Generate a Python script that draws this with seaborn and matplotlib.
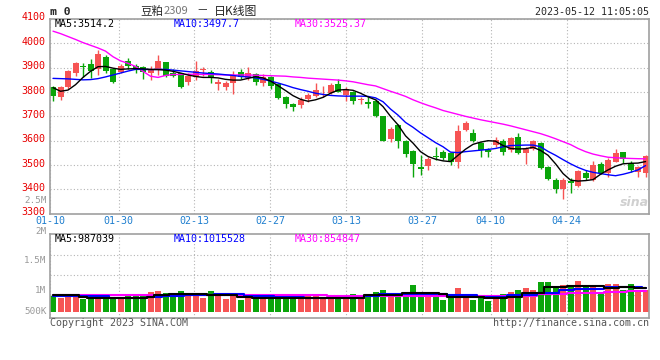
import matplotlib
matplotlib.use("Agg")
import matplotlib.pyplot as plt
import matplotlib.transforms as mtransforms
import numpy as np
import pandas as pd
import seaborn as sns

# ---------------- data ----------------
date_labels = ["01-10", "01-30", "02-13", "02-27", "03-13", "03-27", "04-10", "04-24"]
date_tick_pos = [-0.4, 8.76, 18.83, 28.97, 39.11, 49.24, 58.36, 68.49]
price_ticks = [3300, 3400, 3500, 3600, 3700, 3800, 3900, 4000, 4100]

opens = [3822, 3781, 3820, 3877, 3908, 3914, 3893, 3943, 3893, 3881,
         3927, 3905, 3901, 3877, 3893, 3922, 3877, 3877, 3842, 3863,
         3889, 3881, 3832, 3822, 3838, 3883, 3856, 3874, 3838, 3860,
         3833, 3778, 3751, 3747, 3770, 3785, 3798, 3795, 3833, 3788,
         3799, 3769, 3760, 3764, 3701, 3607, 3664, 3600, 3558, 3490,
         3496, 3538, 3555, 3548, 3514, 3644, 3633, 3592, 3562, 3582,
         3599, 3562, 3616, 3551, 3565, 3592, 3493, 3438, 3400, 3436,
         3415, 3468, 3438, 3504, 3466, 3514, 3552, 3507, 3473, 3466]
closes = [3784, 3822, 3885, 3920, 3902, 3886, 3956, 3886, 3842, 3907,
          3907, 3895, 3883, 3893, 3927, 3867, 3867, 3822, 3867, 3886,
          3891, 3861, 3842, 3836, 3870, 3860, 3877, 3842, 3860, 3826,
          3777, 3750, 3737, 3767, 3788, 3808, 3801, 3829, 3801, 3811,
          3764, 3772, 3750, 3701, 3600, 3647, 3597, 3544, 3504, 3485,
          3525, 3535, 3528, 3514, 3640, 3674, 3600, 3562, 3555, 3603,
          3555, 3612, 3551, 3566, 3599, 3487, 3443, 3400, 3438, 3428,
          3475, 3445, 3500, 3468, 3521, 3548, 3524, 3480, 3493, 3537]
highs = [3825, 3826, 3890, 3925, 3920, 3934, 3973, 3952, 3897, 3915,
         3941, 3915, 3905, 3905, 3952, 3925, 3895, 3880, 3880, 3927,
         3903, 3890, 3855, 3845, 3886, 3896, 3901, 3880, 3874, 3866,
         3838, 3782, 3756, 3778, 3795, 3838, 3825, 3836, 3852, 3822,
         3805, 3781, 3778, 3770, 3703, 3657, 3669, 3602, 3560, 3541,
         3534, 3573, 3562, 3552, 3664, 3682, 3647, 3596, 3569, 3616,
         3606, 3616, 3630, 3575, 3603, 3594, 3495, 3445, 3445, 3446,
         3478, 3480, 3517, 3514, 3528, 3565, 3555, 3518, 3496, 3541]
lows = [3764, 3767, 3812, 3866, 3860, 3856, 3870, 3877, 3838, 3877,
        3893, 3880, 3852, 3848, 3870, 3862, 3860, 3818, 3830, 3850,
        3865, 3835, 3808, 3808, 3791, 3852, 3849, 3829, 3826, 3814,
        3771, 3733, 3723, 3736, 3760, 3778, 3778, 3791, 3799, 3764,
        3750, 3750, 3736, 3699, 3599, 3596, 3571, 3532, 3450, 3459,
        3480, 3521, 3521, 3500, 3487, 3641, 3596, 3532, 3532, 3575,
        3541, 3555, 3545, 3504, 3562, 3482, 3438, 3384, 3360, 3387,
        3408, 3438, 3436, 3463, 3452, 3514, 3510, 3473, 3450, 3450]

ma5 = [3818, 3803, 3808, 3830, 3860, 3885, 3904, 3905, 3898, 3893,
       3895, 3896, 3895, 3893, 3892, 3890, 3885, 3878, 3870, 3864,
       3860, 3860, 3858, 3852, 3849, 3849, 3856, 3863, 3858, 3845,
       3826, 3806, 3785, 3770, 3762, 3768, 3778, 3795, 3808, 3810,
       3807, 3795, 3780, 3768, 3740, 3700, 3665, 3620, 3590, 3555,
       3535, 3524, 3517, 3514, 3540, 3565, 3585, 3594, 3600, 3598,
       3580, 3568, 3566, 3567, 3573, 3560, 3540, 3505, 3465, 3438,
       3434, 3436, 3440, 3462, 3480, 3495, 3505, 3507, 3508, 3514.2]
ma10 = [3856, 3855, 3854, 3852, 3850, 3851, 3855, 3862, 3870, 3878,
        3886, 3893, 3893, 3892, 3893, 3893, 3890, 3887, 3884, 3881,
        3878, 3876, 3874, 3871, 3868, 3864, 3862, 3858, 3852, 3845,
        3837, 3828, 3818, 3810, 3803, 3795, 3790, 3786, 3784, 3783,
        3783, 3783, 3782, 3776, 3760, 3730, 3705, 3675, 3655, 3632,
        3612, 3592, 3575, 3553, 3551, 3555, 3558, 3561, 3564, 3568,
        3575, 3580, 3581, 3582, 3582, 3575, 3556, 3540, 3522, 3505,
        3490, 3478, 3470, 3465, 3460, 3456, 3462, 3470, 3480, 3497.7]
ma30 = [4050, 4040, 4028, 4016, 4003, 3992, 3981, 3968, 3945, 3928,
        3918, 3905, 3885, 3865, 3860, 3868, 3872, 3872, 3873, 3873,
        3872, 3872, 3871, 3870, 3870, 3870, 3870, 3869, 3868, 3867,
        3866, 3865, 3862, 3860, 3857, 3855, 3853, 3851, 3849, 3846,
        3842, 3836, 3830, 3825, 3814, 3803, 3793, 3782, 3768, 3756,
        3745, 3735, 3724, 3716, 3708, 3700, 3693, 3686, 3680, 3674,
        3668, 3661, 3653, 3645, 3637, 3629, 3619, 3608, 3596, 3584,
        3568, 3555, 3545, 3538, 3532, 3530, 3528, 3527, 3526, 3525.37]

volume_k = [670, 585, 754, 670, 530, 640, 700, 700, 560, 560,
            700, 640, 700, 826, 870, 780, 670, 870, 780, 780,
            585, 870, 670, 530, 780, 500, 700, 640, 585, 754,
            754, 700, 610, 610, 640, 640, 610, 560, 670, 630,
            754, 630, 670, 840, 910, 754, 700, 754, 1140, 810,
            754, 640, 500, 585, 996, 640, 500, 640, 445, 700,
            754, 840, 910, 996, 925, 1250, 1250, 1010, 1140, 1140,
            1290, 1050, 1140, 810, 1180, 1180, 910, 1180, 910, 910]
vol_ma5_k = [684, 684, 684, 684, 627, 559, 585, 585, 585, 559,
             559, 559, 559, 627, 699, 699, 754, 754, 754, 754,
             727, 684, 684, 684, 684, 627, 627, 585, 585, 585,
             585, 585, 585, 585, 559, 559, 559, 559, 559, 585,
             585, 585, 699, 699, 699, 699, 699, 797, 797, 797,
             797, 797, 727, 613, 613, 613, 613, 613, 559, 559,
             559, 627, 627, 797, 797, 797, 1051, 1051, 1051, 1079,
             1079, 1079, 1079, 1079, 983, 983, 1051, 1051, 983, 987]
vol_ma10_k = [670, 670, 670, 670, 641, 641, 641, 641, 585, 585,
              585, 585, 585, 613, 613, 656, 656, 656, 699, 699,
              699, 699, 727, 727, 727, 727, 641, 641, 641, 641,
              613, 613, 613, 613, 585, 585, 585, 559, 559, 585,
              585, 585, 656, 656, 727, 727, 727, 727, 754, 754,
              754, 754, 754, 699, 699, 699, 699, 613, 613, 613,
              613, 699, 699, 699, 699, 768, 768, 768, 911, 911,
              968, 968, 968, 968, 1022, 1022, 1022, 1022, 1022, 1015.5]
vol_ma30_k = [684, 684, 684, 684, 684, 684, 684, 684, 684, 684,
              684, 684, 684, 684, 684, 684, 684, 684, 684, 684,
              684, 684, 684, 684, 684, 684, 684, 684, 684, 684,
              684, 684, 684, 684, 684, 684, 684, 656, 656, 656,
              656, 656, 656, 656, 656, 656, 656, 670, 670, 670,
              670, 670, 670, 670, 670, 670, 670, 670, 656, 656,
              656, 656, 656, 656, 656, 727, 727, 727, 727, 768,
              768, 768, 768, 768, 811, 811, 811, 855, 855, 854.8]

vol_axis_labels = ["2.5M", "2M", "1.5M", "1M", "500K"]

# ---------------- style ----------------
RED = "#f65454"
GREEN = "#0aa50a"
BLUE = "#0000ff"
MAGENTA = "#ff00ff"
GRID = "#b4b4b4"
SPINE = "#a0a0a0"
XLBL = "#1f7fcf"
GRAYTXT = "#999999"
MONO = ["DejaVu Sans Mono"]
CJK = ["Noto Sans CJK SC", "DejaVu Sans"]

sns.set_style("white")
plt.rcParams["font.family"] = MONO

W, H = 660, 360
fig = plt.figure(figsize=(W / 100, H / 100), dpi=100)
fig.patch.set_facecolor("white")


def fx(px):
    return px / W


def fy(py):
    return 1 - py / H


L, R = 50, 649.3
ax = fig.add_axes([fx(L), fy(213.7), (R - L) / W, (213.7 - 19) / H])
axv = fig.add_axes([fx(L), fy(318.3), (R - L) / W, (318.3 - 234.3) / H])

n = len(closes)
idx = np.arange(n)
o = np.array(opens, float)
c = np.array(closes, float)
hi = np.array(highs, float)
lo = np.array(lows, float)
up = c >= o
cols = np.where(up, RED, GREEN)

# ---- candles ----
ax.vlines(idx, lo, hi, colors=cols, lw=1.0, zorder=2)
body_h = np.maximum(np.abs(c - o), 4)
body_b = np.minimum(o, c)
ax.bar(idx, body_h, bottom=body_b, width=0.8, color=cols, lw=0, zorder=2.5)

# ---- moving averages ----
sns.lineplot(x=idx, y=ma30, ax=ax, color=MAGENTA, lw=1.0, zorder=3)
sns.lineplot(x=idx, y=ma10, ax=ax, color=BLUE, lw=1.0, zorder=3)
sns.lineplot(x=idx, y=ma5, ax=ax, color="black", lw=1.0, zorder=3)

fs = 7.0
ax.set_xlim(-0.4, 79.5)
ax.set_ylim(3300, 4100)
ax.set_yticks(price_ticks)
ax.set_yticklabels([str(t) for t in price_ticks])
ax.set_xticks(date_tick_pos)
ax.set_xticklabels(date_labels)
ax.set_xlabel("")
ax.set_ylabel("")
ax.grid(True, color=GRID, lw=0.8, ls=(0, (1, 2)))
ax.set_axisbelow(True)
ax.tick_params(axis="y", length=0, pad=3.5, labelsize=fs + 0.2, labelcolor="#e80000")
ax.tick_params(axis="x", length=0, pad=2.0, labelsize=fs + 0.2, labelcolor=XLBL)
off = mtransforms.ScaledTranslation(0, 2.5 / 100, fig.dpi_scale_trans)
for lbl in ax.get_yticklabels():
    lbl.set_transform(lbl.get_transform() + off)
for sp in ax.spines.values():
    sp.set_color(SPINE)
    sp.set_linewidth(1.2)
    sp.set_visible(True)

# ---- volume ----
vdf = pd.DataFrame({"idx": idx, "vol": np.array(volume_k) * 1000.0,
                    "dir": np.where(up, "up", "down")})
sns.barplot(data=vdf, x="idx", y="vol", hue="dir", palette={"up": RED, "down": GREEN},
            dodge=False, legend=False, width=0.8, saturation=1, errorbar=None,
            linewidth=0, ax=axv, zorder=2)
sns.lineplot(x=idx, y=np.array(vol_ma30_k) * 1000, ax=axv, color=MAGENTA, lw=1.5,
             drawstyle="steps-mid", zorder=3)
sns.lineplot(x=idx, y=np.array(vol_ma10_k) * 1000, ax=axv, color=BLUE, lw=1.5,
             drawstyle="steps-mid", zorder=3)
sns.lineplot(x=idx, y=np.array(vol_ma5_k) * 1000, ax=axv, color="black", lw=1.5,
             drawstyle="steps-mid", zorder=3)

px_per_unit = 23.6e-6  # pixels per share
vbase = 311.5


def vval(py):
    return (vbase - py) / px_per_unit


axv.set_xlim(-0.4, 79.5)
axv.set_ylim(vval(318.3), vval(234.3))
axv.set_yticks([vval(255.3), vval(275.3), vval(295.3)])
axv.set_yticklabels([])
axv.set_xticks(date_tick_pos)
axv.set_xticklabels([])
axv.set_xlabel("")
axv.set_ylabel("")
axv.grid(True, color=GRID, lw=0.8, ls=(0, (1, 2)))
axv.set_axisbelow(True)
axv.tick_params(length=0)
for sp in axv.spines.values():
    sp.set_color(SPINE)
    sp.set_linewidth(1.2)
    sp.set_visible(True)

# ---- texts ----
fig.text(fx(50.5), fy(12), "m 0", fontsize=8.2, fontweight="bold", va="center", ha="left")
fig.text(fx(140.5), fy(11), "豆粕", family=CJK, fontsize=8.3, va="center", ha="left")
fig.text(fx(164), fy(11.5), "2309", family=CJK, fontsize=8.0, color="#777777", va="center", ha="left")
fig.text(fx(196.5), fy(11), "－", family=CJK, fontsize=8.3, va="center", ha="left")
fig.text(fx(214), fy(11), "日K线图", family=CJK, fontsize=8.6, va="center", ha="left")
fig.text(fx(649.3), fy(11.7), "2023-05-12 11:05:05", fontsize=fs + 0.2, va="center", ha="right")

fig.text(fx(54.3), fy(24), "MA5:3514.2", fontsize=fs + 0.2, color="black", va="center")
fig.text(fx(174), fy(24), "MA10:3497.7", fontsize=fs + 0.2, color=BLUE, va="center")
fig.text(fx(295), fy(24), "MA30:3525.37", fontsize=fs + 0.2, color=MAGENTA, va="center")

fig.text(fx(54.3), fy(239.5), "MA5:987039", fontsize=fs + 0.2, color="black", va="center")
fig.text(fx(174), fy(239.5), "MA10:1015528", fontsize=fs + 0.2, color=BLUE, va="center")
fig.text(fx(295), fy(239.5), "MA30:854847", fontsize=fs + 0.2, color=MAGENTA, va="center")

for lbl, py in zip(vol_axis_labels, [200.7, 232.0, 260.7, 290.3, 311.0]):
    fig.text(fx(46.5), fy(py), lbl, fontsize=fs - 0.3, color=GRAYTXT, va="center", ha="right")

fig.text(fx(50), fy(323), "Copyright 2023 SINA.COM", fontsize=fs + 0.2, color="#555555",
         va="center", ha="left")
fig.text(fx(649.3), fy(323.3), "http://finance.sina.com.cn", fontsize=fs + 0.2, color="#555555",
         va="center", ha="right")

# sina watermark
fig.text(fx(634), fy(203), "sina", family=["DejaVu Sans"], fontsize=9, fontweight="bold",
         style="italic", color="#d0d0d0", va="center", ha="center", zorder=1)

fig.savefig("out.png", dpi=100)
